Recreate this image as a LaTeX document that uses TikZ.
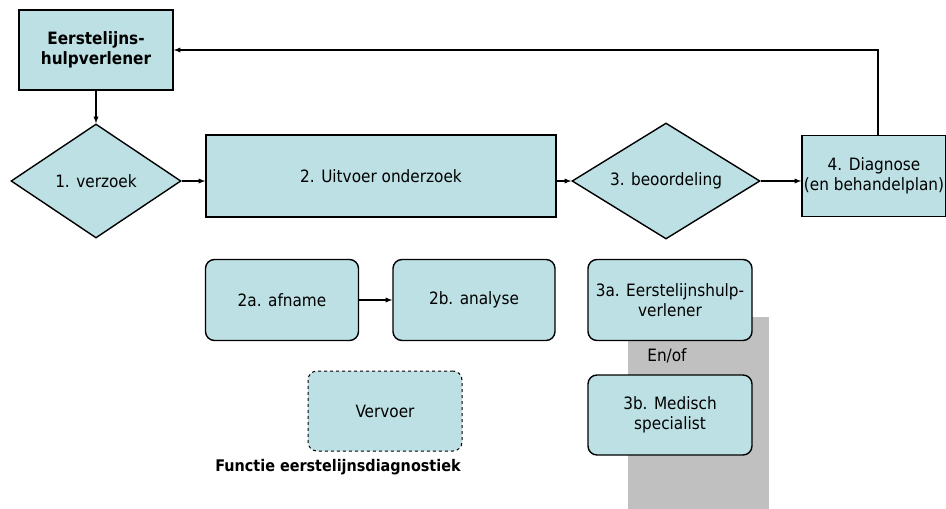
\documentclass[tikz,border=0pt]{standalone}
\usepackage{fontspec}
\setmainfont{DejaVu Sans Condensed}
\usetikzlibrary{shapes.geometric}
\definecolor{boxblue}{RGB}{189,224,228}
\definecolor{shadegray}{RGB}{192,192,192}

\begin{document}
\begin{tikzpicture}[x=1pt,y=-1pt,font=\fontsize{17}{20}\selectfont,
  blok/.style={draw,line width=1.4pt,fill=boxblue,inner sep=0pt,align=center},
  ruit/.style={blok,diamond,aspect=1.6},
  rond/.style={blok,rounded corners=9pt},
  pijl/.style={line width=1.3pt,-latex}]
\useasboundingbox (0,0) rectangle (946,509);

% grijs vlak achter 3a en 3b
\fill[shadegray] (628,317) rectangle (769,509);

\node[blok,minimum width=154,minimum height=80] (ehv) at (96,50) {\textbf{Eerstelijns-}\\\textbf{hulpverlener}};
\node[ruit,minimum width=170,minimum height=114] (verzoek) at (96,181) {1. verzoek};
\node[blok,minimum width=350,minimum height=82] (uitvoer) at (381,176) {2. Uitvoer onderzoek};
\node[ruit,minimum width=188,minimum height=116] (beoord) at (666,181) {3. beoordeling};
\node[blok,minimum width=144,minimum height=81] (diagnose) at (874,176) {4. Diagnose\\(en behandelplan)};

\node[rond,minimum width=153,minimum height=81] (afname) at (282,300) {2a. afname};
\node[rond,minimum width=162,minimum height=81] (analyse) at (474,300) {2b. analyse};
\node[rond,dashed,line width=1pt,minimum width=154,minimum height=80] (vervoer) at (385,411) {Vervoer};
\node[font=\fontsize{16}{19}\selectfont\bfseries] (functie) at (338,467) {Functie eerstelijnsdiagnostiek};

\node[rond,minimum width=164,minimum height=81] (ehv3a) at (670,300) {3a. Eerstelijnshulp-\\verlener};
\node (enof) at (667,356) {En/of};
\node[rond,minimum width=164,minimum height=80] (spec) at (670,415) {3b. Medisch\\specialist};

\draw[pijl] (ehv.south) -- (verzoek.north);
\draw[pijl] (verzoek.east) -- (verzoek.east -| uitvoer.west);
\draw[pijl] (beoord.west -| uitvoer.east) -- (beoord.west);
\draw[pijl] (beoord.east) -- (beoord.east -| diagnose.west);
\draw[pijl] ([xshift=4pt]diagnose.north) |- (ehv.east);
\draw[pijl] (afname) -- (analyse);
\end{tikzpicture}
\end{document}
